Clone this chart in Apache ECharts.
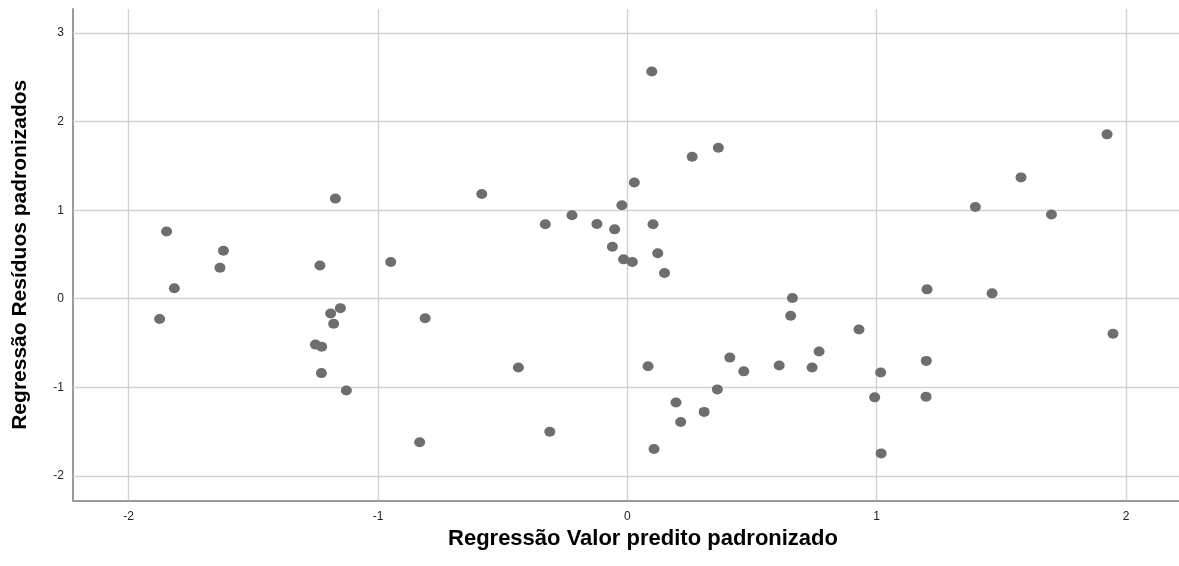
<!DOCTYPE html>
<html>
<head>
<meta charset="utf-8">
<script src="https://cdn.jsdelivr.net/npm/echarts@6/dist/echarts.min.js"></script>
<style>
html,body{margin:0;padding:0;background:#fff;}
#chart{width:1179px;height:566px;}
</style>
</head>
<body>
<div id="chart"></div>
<script>
// Data
const xValues = [-1.848,-1.620,-1.634,-1.817,-1.876,-1.171,-1.233,-1.151,-1.190,-1.178,-1.251,-1.226,-1.227,-1.127,-0.949,
  -0.811,-0.833,-0.584,-0.437,-0.329,-0.311,-0.222,-0.122,-0.051,-0.022,-0.060,-0.015,0.020,0.028,0.098,
  0.103,0.122,0.149,0.083,0.107,0.260,0.365,0.195,0.214,0.308,0.361,0.411,0.467,0.609,0.662,
  0.655,0.741,0.769,0.929,0.992,1.016,1.018,1.202,1.199,1.198,1.396,1.463,1.579,1.701,1.924,1.948];
const yValues = [0.759,0.543,0.351,0.118,-0.229,1.131,0.376,-0.106,-0.167,-0.282,-0.518,-0.543,-0.840,-1.037,0.416,
  -0.220,-1.620,1.184,-0.776,0.841,-1.502,0.943,0.845,0.784,1.057,0.588,0.445,0.416,1.314,2.567,
  0.841,0.514,0.290,-0.763,-1.698,1.604,1.706,-1.171,-1.392,-1.278,-1.024,-0.665,-0.820,-0.755,0.008,
  -0.192,-0.776,-0.596,-0.347,-1.114,-0.833,-1.747,0.106,-0.702,-1.106,1.037,0.061,1.371,0.951,1.857,-0.396];
const xTicks = [-2,-1,0,1,2];
const yTicks = [-2,-1,0,1,2,3];
const xTitle = 'Regressão Valor predito padronizado';
const yTitle = 'Regressão Resíduos padronizados';

const points = xValues.map((x,i)=>[x,yValues[i]]);
const font = '"Liberation Sans", Arial, sans-serif';
const gridLines = xTicks.map(v=>({xAxis:v})).concat(yTicks.map(v=>({yAxis:v})));

const chart = echarts.init(document.getElementById('chart'), null, {renderer:'canvas'});
chart.setOption({
  animation:false,
  backgroundColor:'#ffffff',
  grid:{left:73, top:9, right:0, bottom:65.5, containLabel:false},
  xAxis:{
    type:'value', min:-2.2234, max:2.2126,
    name:xTitle, nameLocation:'middle', nameGap:27,
    nameTextStyle:{fontFamily:font, fontSize:22, fontWeight:'bold', color:'#000', padding:[0,0,0,34]},
    axisLine:{show:true, onZero:false, lineStyle:{color:'#9a9a9a', width:2}},
    axisTick:{show:false},
    splitLine:{show:false},
    axisLabel:{customValues:xTicks, margin:10, fontFamily:font, fontSize:12, color:'#222',
      formatter:v=>String(v)}
  },
  yAxis:{
    type:'value', min:-2.279, max:3.273,
    name:yTitle, nameLocation:'middle', nameGap:42, nameRotate:90,
    nameTextStyle:{fontFamily:font, fontSize:21, fontWeight:'bold', color:'#000'},
    axisLine:{show:true, onZero:false, lineStyle:{color:'#9a9a9a', width:2}},
    axisTick:{show:false},
    splitLine:{show:false},
    axisLabel:{customValues:yTicks, margin:9, fontFamily:font, fontSize:12, color:'#222',
      formatter:v=>String(v)}
  },
  series:[
    {
      type:'scatter', data:[], z:1, silent:true,
      markLine:{
        silent:true, symbol:['none','none'], z:1,
        label:{show:false},
        lineStyle:{type:'solid', color:'#d2d2d2', width:1.4},
        emphasis:{disabled:true},
        data:gridLines
      }
    },
    {
      type:'scatter', data:points, z:3,
      symbol:'circle', symbolSize:[11,10],
      itemStyle:{color:'#6e6e6e', opacity:1}
    }
  ]
});
</script>
</body>
</html>
